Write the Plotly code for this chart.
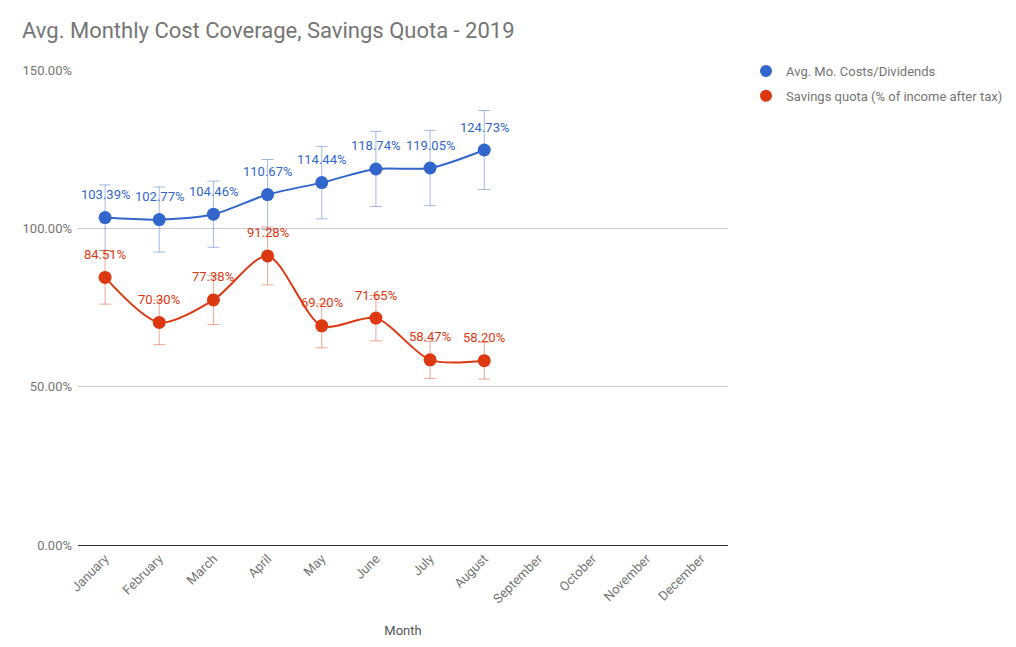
import plotly.graph_objects as go

months = ["January", "February", "March", "April", "May", "June", "July",
          "August", "September", "October", "November", "December"]
data_months = months[:8]
cost_coverage = [103.39, 102.77, 104.46, 110.67, 114.44, 118.74, 119.05, 124.73]
savings_quota = [84.51, 70.30, 77.38, 91.28, 69.20, 71.65, 58.47, 58.20]
error_pct = 10
y_ticks = [0, 50, 100, 150]

BLUE = "#3366cc"
RED = "#dc3912"
FONT = "Roboto, Arial, sans-serif"

fig = go.Figure()
annotations = []

def add_series(name, vals, color, err_color, group):
    fig.add_trace(go.Scatter(
        x=data_months, y=vals, name=name, showlegend=False,
        mode="lines+markers",
        line=dict(color=color, width=2, shape="spline", smoothing=0.8),
        marker=dict(color=color, size=13),
        error_y=dict(type="percent", value=error_pct, color=err_color,
                     thickness=1, width=6),
        cliponaxis=False,
    ))
    # legend entry: marker only
    fig.add_trace(go.Scatter(
        x=[None], y=[None], name=name, mode="markers", legendgroup=group,
        marker=dict(color=color, size=13),
    ))
    for m, v in zip(data_months, vals):
        annotations.append(dict(
            x=m, y=v, xref="x", yref="y", text=f"{v:.2f}%", showarrow=False,
            yshift=23, font=dict(color=color, size=13, family=FONT),
        ))

add_series("Avg. Mo. Costs/Dividends", cost_coverage, BLUE, "rgba(51,102,204,0.45)", "a")
add_series("Savings quota (% of income after tax)", savings_quota, RED, "rgba(220,57,18,0.45)", "b")

fig.update_layout(
    width=1016, height=647,
    paper_bgcolor="white", plot_bgcolor="white",
    margin=dict(l=70, r=296, t=62, b=110, autoexpand=False),
    font=dict(family=FONT, color="#757575", size=13),
    title=dict(text="Avg. Monthly Cost Coverage, Savings Quota - 2019",
               x=14/1016, xanchor="left", y=1 - 22/647, yanchor="middle",
               font=dict(size=22, color="#757575", family=FONT)),
    showlegend=True,
    annotations=annotations,
    legend=dict(x=1.0277, y=1.0295, xanchor="left", yanchor="top",
                font=dict(size=13, color="#757575", family=FONT),
                itemsizing="constant", tracegroupgap=5,
                bgcolor="rgba(0,0,0,0)"),
    xaxis=dict(
        type="category", categoryorder="array", categoryarray=months,
        range=[-0.5, 11.5], tickmode="array", tickvals=months, ticktext=months,
        tickangle=-45, showgrid=False, showline=True, linecolor="#333333",
        linewidth=1, ticks="", tickfont=dict(size=13, color="#757575"),
        title=dict(text="Month", font=dict(size=13, color="#555555"), standoff=20),
        zeroline=False, automargin=False,
    ),
    yaxis=dict(
        range=[0, 150], tickmode="array", tickvals=y_ticks,
        ticktext=[f"{v:.2f}%" for v in y_ticks],
        showgrid=True, gridcolor="#cccccc", gridwidth=1, zeroline=False,
        showline=False, ticks="", tickfont=dict(size=13, color="#757575"),
        ticklabelstandoff=5, automargin=False,
    ),
)

fig.write_html("out.html")
